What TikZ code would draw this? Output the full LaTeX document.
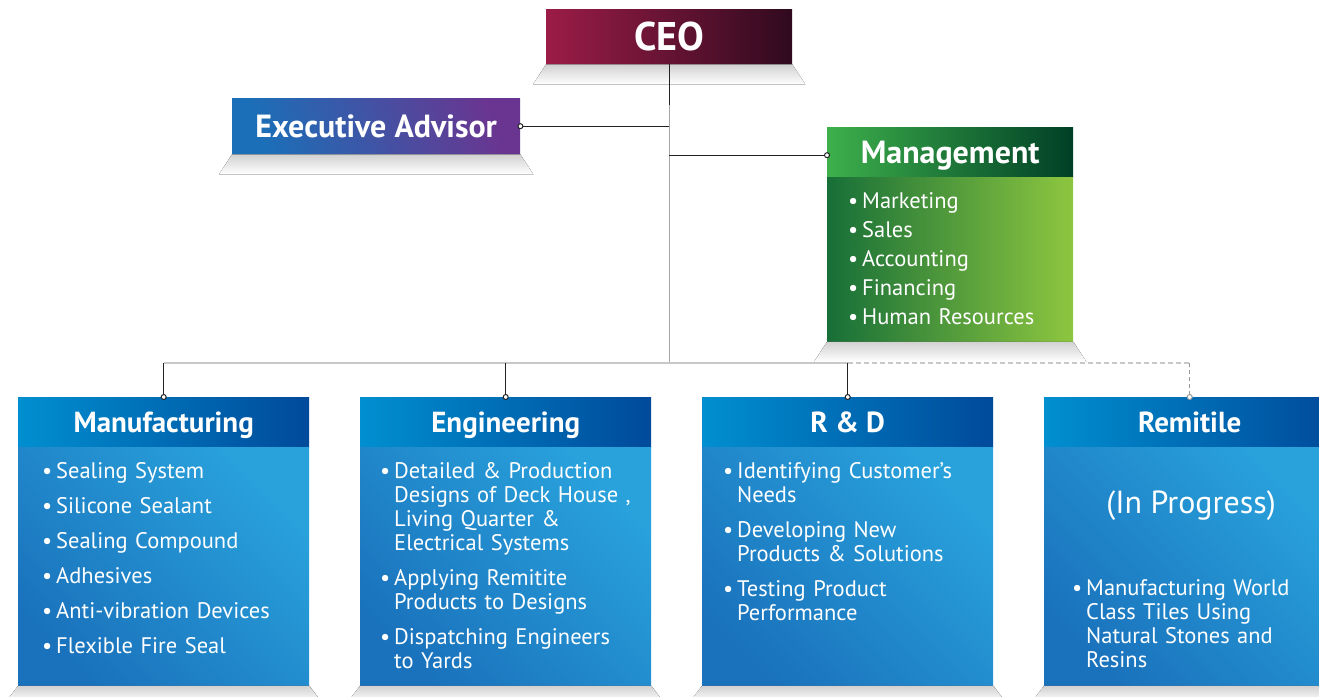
\documentclass[tikz,border=0pt]{standalone}
\usepackage{fontspec}
\setmainfont{PT Sans}
\usetikzlibrary{calc,arrows.meta}

\definecolor{ceoA}{HTML}{9B1C47}
\definecolor{ceoB}{HTML}{300A1E}
\definecolor{advA}{HTML}{1B6FB8}
\definecolor{advB}{HTML}{6A3590}
\definecolor{mgA}{HTML}{3DB04B}
\definecolor{mgM}{HTML}{007A3D}
\definecolor{mgB}{HTML}{003F26}
\definecolor{mbA}{HTML}{176F38}
\definecolor{mbB}{HTML}{8DC63F}
\definecolor{bhA}{HTML}{008FD0}
\definecolor{bhB}{HTML}{004A9A}
\definecolor{bbA}{HTML}{1A72BC}
\definecolor{bbB}{HTML}{29A2DC}
\definecolor{lnk}{HTML}{222222}
\definecolor{bus}{HTML}{C8C8C8}

\newcommand\itm[1]{\noindent\hangindent=14pt\hangafter=1\makebox[14pt][l]{\textbullet}#1\par}

\tikzset{
  box/.style={anchor=north west, inner sep=0, text=white, font=\bfseries\fontsize{32}{36}\selectfont},
  ceobox/.style={box, minimum width=246, minimum height=55, left color=ceoA, right color=ceoB, font=\bfseries\fontsize{40}{44}\selectfont},
  advbox/.style={box, minimum width=288, minimum height=56, top color=advB, bottom color=advA, shading angle=-70},
  mghead/.style={box, text depth=0pt, minimum width=246, minimum height=50, left color=mgA, middle color=mgM, right color=mgB},
  mgbody/.style={anchor=north, inner sep=0, minimum width=246, minimum height=164, left color=mbA, right color=mbB},
  bluehead/.style={box, text depth=0pt, minimum width=291, minimum height=50, left color=bhA, right color=bhB, font=\bfseries\fontsize{29}{32}\selectfont},
  bluebody/.style={anchor=north, inner sep=0, minimum width=291, minimum height=238, top color=bbB, bottom color=bbA, shading angle=-45},
  lst/.style={text=white, inner sep=0, anchor=base west, text width=290, font=\fontsize{22.5}{24}\selectfont},
  shadowfill/.style={top color=black!18, bottom color=white},
  blk/.style={draw=lnk, line width=1.2pt},
  gry/.style={draw=black!35, line width=1.2pt},
  busline/.style={draw=bus, line width=2pt},
  dot/.style={-{Circle[fill=white,length=6pt,line width=1pt]}, shorten >=-3pt}
}

\begin{document}
\begin{tikzpicture}[x=1pt,y=-1pt]
\clip (0,0) rectangle (1319,696);

% top boxes
\node[ceobox] (ceo) at (546,9) {CEO};
\node[advbox] (adv) at (232,98) {Executive Advisor};
\node[mghead] (mgmt) at (827,127) {Management};
\node[mgbody] (mgmtb) at (mgmt.south) {};
\node[lst, text=white] (mgmtlist) at (848,208) {\fontsize{22.5}{29}\selectfont
  \itm{Marketing}\itm{Sales}\itm{Accounting}\itm{Financing}\itm{Human Resources}};

% shadows under the top boxes
\foreach \n in {ceo,adv,mgmtb}
  \fill[shadowfill] (\n.south west) -- (\n.south east) -- ++(13,20) -- ($(\n.south west)+(-13,20)$) -- cycle;

% departments
\foreach \x/\n/\t in {18/manu/Manufacturing,360/eng/Engineering,702/rnd/R \& D,1044/remi/Remitile}{
  \node[bluehead] (\n) at (\x,397) {\t};
  \node[bluebody] (\n b) at (\n.south) {};
  \fill[shadowfill] (\n b.south west) -- (\n b.south east) -- ++(12,16) -- ($(\n b.south west)+(-12,16)$) -- cycle;
}

\node[lst] (manulist) at (42,478) {\setlength\parskip{11pt}%
  \itm{Sealing System}\itm{Silicone Sealant}\itm{Sealing Compound}%
  \itm{Adhesives}\itm{Anti-vibration Devices}\itm{Flexible Fire Seal}};
\node[lst] (englist) at (380,478) {\setlength\parskip{11pt}%
  \itm{Detailed \& Production\newline Designs of Deck House ,\newline Living Quarter \&\newline Electrical Systems}%
  \itm{Applying Remitite\newline Products to Designs}%
  \itm{Dispatching Engineers\newline to Yards}};
\node[lst] (rndlist) at (723,478) {\setlength\parskip{11pt}%
  \itm{Identifying Customer’s\newline Needs}%
  \itm{Developing New\newline Products \& Solutions}%
  \itm{Testing Product\newline Performance}};
\node[text=white, font=\fontsize{32}{36}\selectfont] (prog) at (1191,506) {(In Progress)};
\node[lst] (remilist) at (1072,595) {%
  \itm{Manufacturing World\newline Class Tiles Using\newline Natural Stones and\newline Resins}};

% connectors
\coordinate (hub) at (ceo.south |- 0,363);
\draw[gry] (ceo.south) -- (hub);
\draw[blk] (ceo.south) -- ++(0,41);
\draw[blk,dot] (ceo.south |- adv.east) -- (adv.east);
\draw[blk,dot] ($(ceo.south |- mgmt.west)+(0,3)$) -- ($(mgmt.west)+(0,3)$);
\draw[busline] (manu.north |- hub) -- (rnd.north |- hub);
\draw[busline, dash pattern=on 5pt off 3pt] (rnd.north |- hub) -- (remi.north |- hub);
\foreach \n in {manu,eng,rnd}
  \draw[blk,dot] (\n.north |- hub) -- (\n.north);
\draw[draw=black!40, line width=1.2pt, dash pattern=on 4pt off 3pt, dot] (remi.north |- hub) -- (remi.north);
\end{tikzpicture}
\end{document}
